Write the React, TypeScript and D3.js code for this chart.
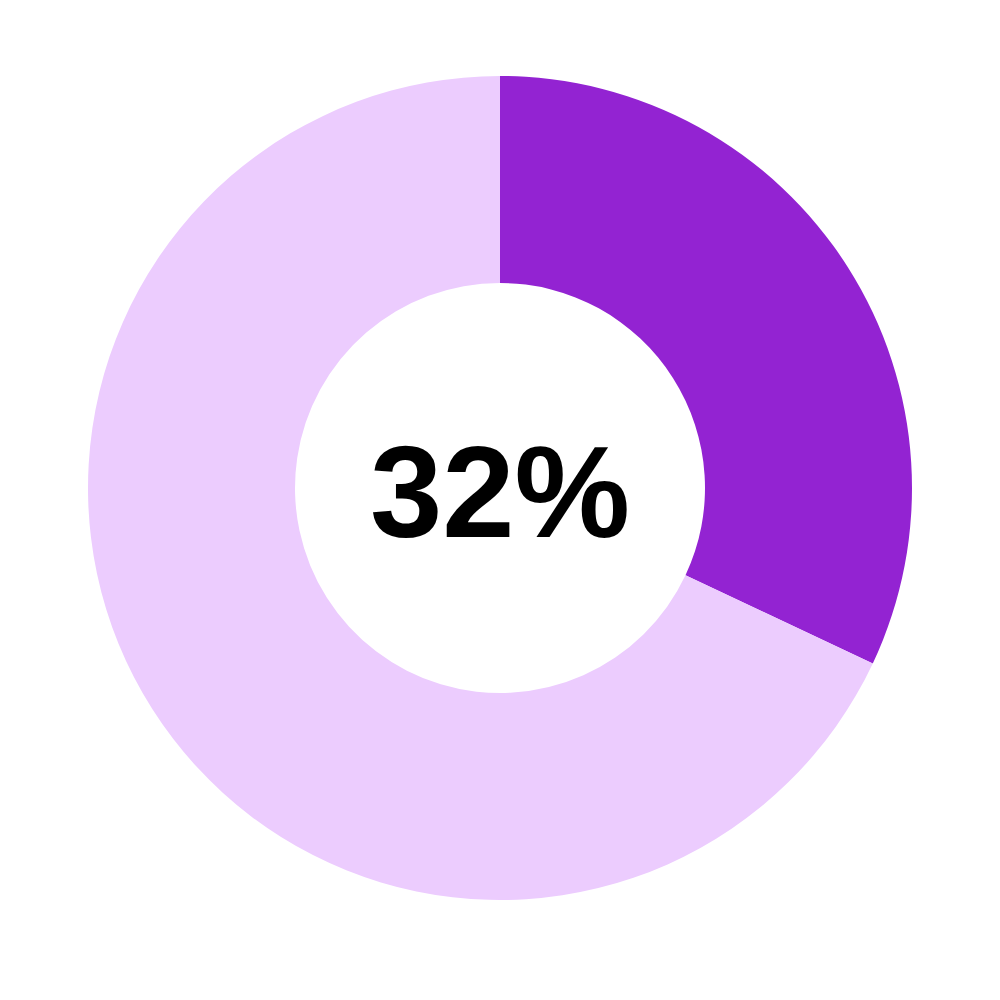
import React from "react";
import * as d3 from "d3";

const categories = ["Share", "Remainder"];
const values = [32, 68];
const colors = ["#9323D2", "#ECCCFE"];
const labelText = "32%";

export default function App() {
  const width = 1000;
  const height = 1000;
  const cx = 500;
  const cy = 488;
  const outer = 412;
  const inner = 205;
  const pie = d3.pie<number>().sort(null).value((d) => d);
  const arcs = pie(values);
  const arc = d3.arc<d3.PieArcDatum<number>>().innerRadius(inner).outerRadius(outer);
  return (
    <svg width={width} height={height} style={{ position: "absolute", left: 0, top: 0 }}>
      <rect width={width} height={height} fill="#ffffff" />
      <g transform={`translate(${cx},${cy})`}>
        {arcs.map((a, i) => (
          <path key={categories[i]} d={arc(a) || ""} fill={colors[i]} />
        ))}
        <text
          x={0}
          y={49}
          textAnchor="middle"
          fontFamily="'Liberation Sans', Arial, sans-serif"
          fontWeight="bold"
          fontSize={130}
          fill="#000"
        >
          {labelText}
        </text>
      </g>
    </svg>
  );
}
